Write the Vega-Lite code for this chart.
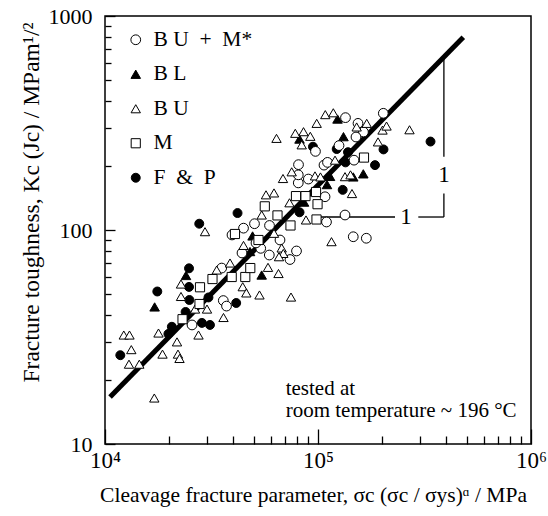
{
  "$schema": "https://vega.github.io/schema/vega-lite/v6.json",
  "width": 426,
  "height": 428,
  "autosize": {"type": "none"},
  "padding": {"left": 105, "top": 16, "right": 17, "bottom": 72},
  "background": "white",
  "config": {"font": "Liberation Serif", "view": {"stroke": "black", "strokeWidth": 1.5},
    "legend": {"orient": "none", "legendX": 20, "legendY": 13, "title": null, "labelFont": "Liberation Serif", "labelFontSize": 21.5, "labelColor": "black", "rowPadding": 11.5, "labelOffset": 7, "symbolStrokeWidth": 1, "symbolOpacity": 1}},
  "datasets": {
    "fit": [{"x": 10560, "y": 16.6}, {"x": 481000, "y": 795}],
    "segs": [
      {"x": 390000, "x2": 390000, "y": 640, "y2": 220},
      {"x": 390000, "x2": 390000, "y": 148, "y2": 115},
      {"x": 100000, "x2": 229900, "y": 115, "y2": 115},
      {"x": 295700, "x2": 390000, "y": 115, "y2": 115}
    ],
    "ones": [{"x": 390000, "y": 181, "text": "1"}, {"x": 258800, "y": 115, "text": "1"}],
    "notes": [{"x": 70500, "y": 16.9, "text": "tested at"}, {"x": 70500, "y": 13.37, "text": "room temperature ~ 196 °C"}],
    "points": [
      {"series": "F & P", "x": 11800, "y": 26.0},
      {"series": "F & P", "x": 17600, "y": 51.6},
      {"series": "F & P", "x": 24800, "y": 66.2},
      {"series": "F & P", "x": 24800, "y": 54.2},
      {"series": "F & P", "x": 24900, "y": 47.1},
      {"series": "F & P", "x": 23900, "y": 41.4},
      {"series": "F & P", "x": 20600, "y": 35.3},
      {"series": "F & P", "x": 19850, "y": 32.7},
      {"series": "F & P", "x": 28500, "y": 36.8},
      {"series": "F & P", "x": 31100, "y": 36.0},
      {"series": "F & P", "x": 30600, "y": 48.4},
      {"series": "F & P", "x": 27700, "y": 107},
      {"series": "F & P", "x": 41900, "y": 120},
      {"series": "F & P", "x": 41300, "y": 45.6},
      {"series": "F & P", "x": 94700, "y": 245},
      {"series": "F & P", "x": 122400, "y": 239},
      {"series": "F & P", "x": 138300, "y": 231},
      {"series": "F & P", "x": 203000, "y": 238},
      {"series": "F & P", "x": 134600, "y": 207},
      {"series": "F & P", "x": 185200, "y": 201},
      {"series": "F & P", "x": 130600, "y": 154},
      {"series": "F & P", "x": 337500, "y": 259},
      {"series": "F & P", "x": 81900, "y": 121},
      {"series": "BL", "x": 17100, "y": 43.7},
      {"series": "BL", "x": 24000, "y": 61.3},
      {"series": "BL", "x": 54400, "y": 61.6},
      {"series": "BL", "x": 49300, "y": 93.8},
      {"series": "BL", "x": 47950, "y": 79.3},
      {"series": "BL", "x": 81900, "y": 266},
      {"series": "BL", "x": 123500, "y": 330},
      {"series": "BL", "x": 131700, "y": 273},
      {"series": "BL", "x": 146400, "y": 177},
      {"series": "BL", "x": 163200, "y": 183},
      {"series": "BL", "x": 110200, "y": 163},
      {"series": "BL", "x": 113900, "y": 178},
      {"series": "BL", "x": 86000, "y": 135},
      {"series": "BU + M*", "x": 202600, "y": 351},
      {"series": "BU + M*", "x": 134600, "y": 335},
      {"series": "BU + M*", "x": 154100, "y": 315},
      {"series": "BU + M*", "x": 163500, "y": 287},
      {"series": "BU + M*", "x": 150800, "y": 272},
      {"series": "BU + M*", "x": 97300, "y": 233},
      {"series": "BU + M*", "x": 125500, "y": 248},
      {"series": "BU + M*", "x": 81000, "y": 202},
      {"series": "BU + M*", "x": 106700, "y": 201},
      {"series": "BU + M*", "x": 110800, "y": 207},
      {"series": "BU + M*", "x": 147600, "y": 212},
      {"series": "BU + M*", "x": 80800, "y": 166},
      {"series": "BU + M*", "x": 90100, "y": 173},
      {"series": "BU + M*", "x": 80800, "y": 181},
      {"series": "BU + M*", "x": 133900, "y": 117.5},
      {"series": "BU + M*", "x": 109600, "y": 109},
      {"series": "BU + M*", "x": 107900, "y": 143},
      {"series": "BU + M*", "x": 146400, "y": 93},
      {"series": "BU + M*", "x": 168600, "y": 91.5},
      {"series": "BU + M*", "x": 50330, "y": 107},
      {"series": "BU + M*", "x": 59200, "y": 105},
      {"series": "BU + M*", "x": 44700, "y": 102},
      {"series": "BU + M*", "x": 39470, "y": 94.8},
      {"series": "BU + M*", "x": 66310, "y": 89.8},
      {"series": "BU + M*", "x": 53830, "y": 82.1},
      {"series": "BU + M*", "x": 59070, "y": 76.4},
      {"series": "BU + M*", "x": 43980, "y": 78.1},
      {"series": "BU + M*", "x": 79270, "y": 79.8},
      {"series": "BU + M*", "x": 73880, "y": 72.8},
      {"series": "BU + M*", "x": 35930, "y": 46.8},
      {"series": "BU + M*", "x": 37200, "y": 44.1},
      {"series": "BU + M*", "x": 35310, "y": 66.4},
      {"series": "BU + M*", "x": 25620, "y": 36.0},
      {"series": "BU + M*", "x": 51160, "y": 87.0},
      {"series": "BU", "x": 17040, "y": 16.4},
      {"series": "BU", "x": 12960, "y": 23.6},
      {"series": "BU", "x": 14490, "y": 23.6},
      {"series": "BU", "x": 13290, "y": 27.6},
      {"series": "BU", "x": 12250, "y": 32.3},
      {"series": "BU", "x": 13030, "y": 32.3},
      {"series": "BU", "x": 17830, "y": 33.0},
      {"series": "BU", "x": 18620, "y": 26.3},
      {"series": "BU", "x": 21780, "y": 30.0},
      {"series": "BU", "x": 22010, "y": 26.3},
      {"series": "BU", "x": 22380, "y": 25.1},
      {"series": "BU", "x": 27480, "y": 32.3},
      {"series": "BU", "x": 36000, "y": 39.0},
      {"series": "BU", "x": 30120, "y": 42.7},
      {"series": "BU", "x": 26460, "y": 42.7},
      {"series": "BU", "x": 22740, "y": 55.9},
      {"series": "BU", "x": 22740, "y": 48.9},
      {"series": "BU", "x": 29480, "y": 98.2},
      {"series": "BU", "x": 33450, "y": 65.0},
      {"series": "BU", "x": 38630, "y": 70.1},
      {"series": "BU", "x": 44320, "y": 54.3},
      {"series": "BU", "x": 46080, "y": 50.8},
      {"series": "BU", "x": 53120, "y": 49.7},
      {"series": "BU", "x": 74680, "y": 48.6},
      {"series": "BU", "x": 58250, "y": 66.9},
      {"series": "BU", "x": 65240, "y": 62.6},
      {"series": "BU", "x": 44700, "y": 84.7},
      {"series": "BU", "x": 67530, "y": 82.4},
      {"series": "BU", "x": 68710, "y": 77.7},
      {"series": "BU", "x": 65590, "y": 75.0},
      {"series": "BU", "x": 62150, "y": 96.5},
      {"series": "BU", "x": 57000, "y": 146},
      {"series": "BU", "x": 62150, "y": 149},
      {"series": "BU", "x": 73480, "y": 134},
      {"series": "BU", "x": 54400, "y": 117.5},
      {"series": "BU", "x": 87830, "y": 111.4},
      {"series": "BU", "x": 63850, "y": 268},
      {"series": "BU", "x": 78230, "y": 283},
      {"series": "BU", "x": 85500, "y": 288},
      {"series": "BU", "x": 92020, "y": 274},
      {"series": "BU", "x": 83860, "y": 250},
      {"series": "BU", "x": 98600, "y": 315},
      {"series": "BU", "x": 108200, "y": 346},
      {"series": "BU", "x": 118000, "y": 353},
      {"series": "BU", "x": 151900, "y": 303},
      {"series": "BU", "x": 169300, "y": 315},
      {"series": "BU", "x": 200900, "y": 293},
      {"series": "BU", "x": 209800, "y": 306},
      {"series": "BU", "x": 268900, "y": 294},
      {"series": "BU", "x": 191300, "y": 258},
      {"series": "BU", "x": 68490, "y": 174},
      {"series": "BU", "x": 75250, "y": 187},
      {"series": "BU", "x": 96800, "y": 179},
      {"series": "BU", "x": 102700, "y": 177},
      {"series": "BU", "x": 133900, "y": 177.5},
      {"series": "BU", "x": 142100, "y": 181},
      {"series": "BU", "x": 144400, "y": 148},
      {"series": "BU", "x": 115700, "y": 88.2},
      {"series": "BU", "x": 120200, "y": 212},
      {"series": "M", "x": 23120, "y": 38.3},
      {"series": "M", "x": 27780, "y": 45.1},
      {"series": "M", "x": 27930, "y": 54.0},
      {"series": "M", "x": 31960, "y": 59.0},
      {"series": "M", "x": 39340, "y": 60.3},
      {"series": "M", "x": 45570, "y": 60.3},
      {"series": "M", "x": 48100, "y": 66.4},
      {"series": "M", "x": 40760, "y": 95.8},
      {"series": "M", "x": 52550, "y": 89.8},
      {"series": "M", "x": 56260, "y": 129},
      {"series": "M", "x": 64540, "y": 117},
      {"series": "M", "x": 74280, "y": 105},
      {"series": "M", "x": 78830, "y": 144},
      {"series": "M", "x": 87360, "y": 144},
      {"series": "M", "x": 97900, "y": 150.5},
      {"series": "M", "x": 99500, "y": 132},
      {"series": "M", "x": 98400, "y": 112},
      {"series": "M", "x": 164400, "y": 218}
    ]
  },
  "layer": [
    {
      "data": {"name": "fit"},
      "mark": {"type": "line", "color": "black", "strokeWidth": 5, "strokeCap": "butt"},
      "encoding": {
        "x": {"field": "x", "type": "quantitative", "scale": {"type": "log", "domain": [10000, 1000000], "nice": false},
          "axis": {"orient": "bottom", "values": [20000, 30000, 40000, 50000, 60000, 70000, 80000, 90000, 200000, 300000, 400000, 500000, 600000, 700000, 800000, 900000], "labels": false, "domain": false, "grid": false, "tickSize": -8, "tickWidth": 1.3, "tickColor": "black", "title": null}},
        "y": {"field": "y", "type": "quantitative", "scale": {"type": "log", "domain": [10, 1000], "nice": false},
          "axis": {"orient": "left", "values": [20, 30, 40, 50, 60, 70, 80, 90, 200, 300, 400, 500, 600, 700, 800, 900], "labels": false, "domain": false, "grid": false, "tickSize": -6, "tickWidth": 1.3, "tickColor": "black", "title": null}}
      }
    },
    {
      "data": {"name": "segs"},
      "mark": {"type": "rule", "color": "black", "strokeWidth": 1.3},
      "encoding": {
        "x": {"field": "x", "type": "quantitative", "scale": {"type": "log", "domain": [10000, 1000000], "nice": false}, "axis": null},
        "x2": {"field": "x2"},
        "y": {"field": "y", "type": "quantitative", "scale": {"type": "log", "domain": [10, 1000], "nice": false}, "axis": null},
        "y2": {"field": "y2"}
      }
    },
    {
      "data": {"name": "points"},
      "mark": {"type": "point", "filled": true, "strokeWidth": 1, "opacity": 1},
      "encoding": {
        "x": {"field": "x", "type": "quantitative", "scale": {"type": "log", "domain": [10000, 1000000], "nice": false},
          "axis": {"orient": "bottom", "values": [10000, 100000, 1000000], "labelExpr": "'10' + (datum.value < 50000 ? '⁴' : datum.value < 500000 ? '⁵' : '⁶')", "labelFont": "Liberation Serif", "labelFontSize": 23, "labelColor": "black", "labelPadding": 20, "labelFlush": false, "labelOverlap": false, "labelBound": false, "tickSize": -15, "tickWidth": 1.3, "tickColor": "black", "domain": false, "grid": false,
            "title": "Cleavage fracture parameter, σc (σc / σys)ᵅ / MPa", "titleFont": "Liberation Serif", "titleFontSize": 21.5, "titleFontWeight": "normal", "titleColor": "black", "titleX": 208, "titleY": 51, "titleBaseline": "middle"}},
        "y": {"field": "y", "type": "quantitative", "scale": {"type": "log", "domain": [10, 1000], "nice": false},
          "axis": {"orient": "left", "values": [10, 100, 1000], "format": "d", "labelFont": "Liberation Serif", "labelFontSize": 22, "labelColor": "black", "labelPadding": 23, "labelFlush": false, "labelOverlap": false, "labelBound": false, "tickSize": -10, "tickWidth": 1.3, "tickColor": "black", "domain": false, "grid": false,
            "title": "Fracture toughness, Kc (Jc) / MPam¹/²", "titleFont": "Liberation Serif", "titleFontSize": 23.5, "titleFontWeight": "normal", "titleColor": "black", "titleX": -74, "titleY": 186, "titleAngle": 270, "titleAlign": "center", "titleBaseline": "middle"}},
        "shape": {"field": "series", "type": "nominal",
          "scale": {"domain": ["BU + M*", "BL", "BU", "M", "F & P"], "range": ["circle", "triangle-up", "triangle-up", "square", "circle"]},
          "legend": {"labelExpr": "datum.label == 'BU + M*' ? 'B U \u00a0+\u00a0 M*' : datum.label == 'BL' ? 'B L' : datum.label == 'BU' ? 'B U' : datum.label == 'F & P' ? 'F \u00a0&\u00a0 P' : datum.label"}},
        "fill": {"field": "series", "type": "nominal",
          "scale": {"domain": ["BU + M*", "BL", "BU", "M", "F & P"], "range": ["white", "black", "white", "white", "black"]},
          "legend": {"labelExpr": "datum.label == 'BU + M*' ? 'B U \u00a0+\u00a0 M*' : datum.label == 'BL' ? 'B L' : datum.label == 'BU' ? 'B U' : datum.label == 'F & P' ? 'F \u00a0&\u00a0 P' : datum.label"}},
        "stroke": {"field": "series", "type": "nominal",
          "scale": {"domain": ["BU + M*", "BL", "BU", "M", "F & P"], "range": ["black", "black", "black", "black", "black"]},
          "legend": {"labelExpr": "datum.label == 'BU + M*' ? 'B U \u00a0+\u00a0 M*' : datum.label == 'BL' ? 'B L' : datum.label == 'BU' ? 'B U' : datum.label == 'F & P' ? 'F \u00a0&\u00a0 P' : datum.label"}},
        "size": {"field": "series", "type": "nominal",
          "scale": {"domain": ["BU + M*", "BL", "BU", "M", "F & P"], "range": [95, 80, 80, 95, 105]},
          "legend": {"labelExpr": "datum.label == 'BU + M*' ? 'B U \u00a0+\u00a0 M*' : datum.label == 'BL' ? 'B L' : datum.label == 'BU' ? 'B U' : datum.label == 'F & P' ? 'F \u00a0&\u00a0 P' : datum.label"}}
      }
    },
    {
      "data": {"name": "ones"},
      "mark": {"type": "text", "font": "Liberation Serif", "fontSize": 23, "align": "center", "baseline": "middle", "color": "black"},
      "encoding": {
        "x": {"field": "x", "type": "quantitative", "scale": {"type": "log", "domain": [10000, 1000000], "nice": false}, "axis": null},
        "y": {"field": "y", "type": "quantitative", "scale": {"type": "log", "domain": [10, 1000], "nice": false}, "axis": null},
        "text": {"field": "text"}
      }
    },
    {
      "data": {"name": "notes"},
      "mark": {"type": "text", "font": "Liberation Serif", "fontSize": 21, "align": "left", "baseline": "alphabetic", "color": "black"},
      "encoding": {
        "x": {"field": "x", "type": "quantitative", "scale": {"type": "log", "domain": [10000, 1000000], "nice": false}, "axis": null},
        "y": {"field": "y", "type": "quantitative", "scale": {"type": "log", "domain": [10, 1000], "nice": false}, "axis": null},
        "text": {"field": "text"}
      }
    }
  ],
  "resolve": {"axis": {"x": "independent", "y": "independent"}}
}
